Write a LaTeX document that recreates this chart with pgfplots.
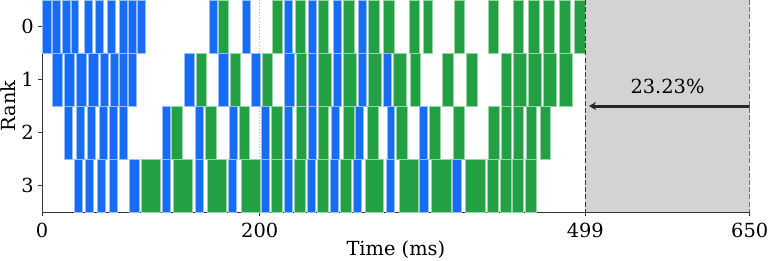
\documentclass[border=0pt]{standalone}
\usepackage{fontspec}
\setmainfont{DejaVu Serif}
\usepackage{pgfplots}
\pgfplotsset{compat=1.18}
\usetikzlibrary{arrows.meta}
\definecolor{fwd}{RGB}{23,108,245}
\definecolor{bwd}{RGB}{34,160,67}
\definecolor{shade}{RGB}{211,211,211}
\definecolor{spine}{RGB}{51,51,51}
\definecolor{arr}{RGB}{38,38,38}
\tikzset{fb/.style={fill=fwd, draw=fwd!45!white, line width=0.8bp},
         bb/.style={fill=bwd, draw=bwd!45!white, line width=0.8bp}}
% \bx{style}{ylow}{yhigh}{start}{end}
\newcommand\bx[5]{\addplot[#1] coordinates {(#4,#2) (#5,#2) (#5,#3) (#4,#3)} --cycle;}
\begin{document}
\begin{tikzpicture}
\begin{axis}[
  scale only axis,
  width=707.7bp, height=212bp,
  xmin=0, xmax=650, ymin=-0.5, ymax=3.5,
  y dir=reverse,
  axis x line*=bottom, axis y line*=left,
  axis line style={spine, line width=1bp, -},
  xtick={0,200,499,650}, ytick={0,1,2,3},
  tick align=outside, major tick length=3.5bp,
  tick style={spine, line width=1bp},
  font=\fontsize{19.4bp}{23bp}\selectfont,
  /pgf/number format/assume math mode=true,
  xticklabel style={anchor=base, yshift=-22.3bp},
  yticklabel style={anchor=east, inner sep=0pt, xshift=-4.5bp},
  xlabel={Time (ms)}, ylabel={Rank},
  xlabel style={at={(axis description cs:0.5,-0.2075)}, anchor=base},
  ylabel style={at={(axis description cs:-0.03716,0.5)}, anchor=base},
]
% idle region
\addplot[fill=shade, draw=none] coordinates {(499,-0.5) (650,-0.5) (650,3.5) (499,3.5)} --cycle;
\addplot[gray!55, dotted, line width=1bp] coordinates {(200,-0.5) (200,3.5)};
% ---- Rank 0
\bx{fb}{-0.5}{0.5}{0}{8.6}
\bx{fb}{-0.5}{0.5}{9.83}{17.17}
\bx{fb}{-0.5}{0.5}{18.64}{25.72}
\bx{fb}{-0.5}{0.5}{26.63}{33.34}
\bx{fb}{-0.5}{0.5}{38.85}{46.20}
\bx{fb}{-0.5}{0.5}{48.68}{56.03}
\bx{fb}{-0.5}{0.5}{59.70}{67.05}
\bx{fb}{-0.5}{0.5}{70.72}{78.34}
\bx{fb}{-0.5}{0.5}{79.63}{86.98}
\bx{fb}{-0.5}{0.5}{87.89}{95.24}
\bx{fb}{-0.5}{0.5}{153.66}{161.00}
\bx{fb}{-0.5}{0.5}{183.69}{191.03}
\bx{fb}{-0.5}{0.5}{222.54}{229.89}
\bx{fb}{-0.5}{0.5}{244.58}{251.93}
\bx{fb}{-0.5}{0.5}{267.54}{274.89}
\bx{fb}{-0.5}{0.5}{290.50}{297.85}
\bx{bb}{-0.5}{0.5}{161.65}{170.83}
\bx{bb}{-0.5}{0.5}{211.52}{220.70}
\bx{bb}{-0.5}{0.5}{232.64}{242.19}
\bx{bb}{-0.5}{0.5}{253.77}{262.95}
\bx{bb}{-0.5}{0.5}{276.73}{286.55}
\bx{bb}{-0.5}{0.5}{299.69}{309.79}
\bx{bb}{-0.5}{0.5}{313.83}{323.57}
\bx{bb}{-0.5}{0.5}{337.07}{346.90}
\bx{bb}{-0.5}{0.5}{349.93}{358.84}
\bx{bb}{-0.5}{0.5}{378.67}{387.86}
\bx{bb}{-0.5}{0.5}{409.90}{419.10}
\bx{bb}{-0.5}{0.5}{432.59}{442.05}
\bx{bb}{-0.5}{0.5}{447.00}{457.10}
\bx{bb}{-0.5}{0.5}{460.78}{470.89}
\bx{bb}{-0.5}{0.5}{474.83}{484.94}
\bx{bb}{-0.5}{0.5}{488.89}{499.00}
% ---- Rank 1
\bx{fb}{0.5}{1.5}{9.83}{18.64}
\bx{fb}{0.5}{1.5}{20.48}{29.67}
\bx{fb}{0.5}{1.5}{31.50}{40.69}
\bx{fb}{0.5}{1.5}{42.89}{52.08}
\bx{fb}{0.5}{1.5}{53.55}{60.89}
\bx{fb}{0.5}{1.5}{62.73}{70.08}
\bx{fb}{0.5}{1.5}{70.72}{78.34}
\bx{fb}{0.5}{1.5}{79.63}{86.98}
\bx{fb}{0.5}{1.5}{130.69}{139.60}
\bx{fb}{0.5}{1.5}{161.93}{170.83}
\bx{fb}{0.5}{1.5}{191.95}{200.86}
\bx{fb}{0.5}{1.5}{222.54}{231.72}
\bx{fb}{0.5}{1.5}{244.58}{251.93}
\bx{fb}{0.5}{1.5}{267.54}{274.89}
\bx{fb}{0.5}{1.5}{290.87}{297.85}
\bx{fb}{0.5}{1.5}{313.83}{321.18}
\bx{bb}{0.5}{1.5}{141.72}{150.90}
\bx{bb}{0.5}{1.5}{172.67}{181.85}
\bx{bb}{0.5}{1.5}{202.70}{211.88}
\bx{bb}{0.5}{1.5}{233.56}{243.11}
\bx{bb}{0.5}{1.5}{253.77}{265.43}
\bx{bb}{0.5}{1.5}{276.73}{288.67}
\bx{bb}{0.5}{1.5}{299.69}{311.63}
\bx{bb}{0.5}{1.5}{322.65}{334.96}
\bx{bb}{0.5}{1.5}{337.99}{347.45}
\bx{bb}{0.5}{1.5}{368.02}{377.76}
\bx{bb}{0.5}{1.5}{389.70}{399.52}
\bx{bb}{0.5}{1.5}{421.84}{431.02}
\bx{bb}{0.5}{1.5}{432.87}{445.17}
\bx{bb}{0.5}{1.5}{447.00}{458.58}
\bx{bb}{0.5}{1.5}{460.78}{472.72}
\bx{bb}{0.5}{1.5}{474.83}{487.05}
% ---- Rank 2
\bx{fb}{1.5}{2.5}{20.48}{27.83}
\bx{fb}{1.5}{2.5}{31.50}{38.85}
\bx{fb}{1.5}{2.5}{41.61}{48.95}
\bx{fb}{1.5}{2.5}{52.63}{59.97}
\bx{fb}{1.5}{2.5}{61.81}{69.16}
\bx{fb}{1.5}{2.5}{71.00}{78.34}
\bx{fb}{1.5}{2.5}{110.86}{118.20}
\bx{fb}{1.5}{2.5}{140.80}{148.14}
\bx{fb}{1.5}{2.5}{171.75}{179.10}
\bx{fb}{1.5}{2.5}{201.78}{209.13}
\bx{fb}{1.5}{2.5}{222.90}{230.25}
\bx{fb}{1.5}{2.5}{244.58}{251.93}
\bx{fb}{1.5}{2.5}{265.71}{272.78}
\bx{fb}{1.5}{2.5}{287.75}{295.10}
\bx{fb}{1.5}{2.5}{316.86}{323.57}
\bx{fb}{1.5}{2.5}{346.90}{353.88}
\bx{bb}{1.5}{2.5}{118.75}{128.86}
\bx{bb}{1.5}{2.5}{149.71}{159.81}
\bx{bb}{1.5}{2.5}{180.93}{190.76}
\bx{bb}{1.5}{2.5}{210.60}{221.07}
\bx{bb}{1.5}{2.5}{233.28}{243.11}
\bx{bb}{1.5}{2.5}{253.49}{262.95}
\bx{bb}{1.5}{2.5}{276.73}{286.83}
\bx{bb}{1.5}{2.5}{298.49}{308.87}
\bx{bb}{1.5}{2.5}{325.77}{335.87}
\bx{bb}{1.5}{2.5}{355.72}{365.54}
\bx{bb}{1.5}{2.5}{377.76}{387.59}
\bx{bb}{1.5}{2.5}{409.90}{419.73}
\bx{bb}{1.5}{2.5}{421.56}{431.02}
\bx{bb}{1.5}{2.5}{432.59}{442.05}
\bx{bb}{1.5}{2.5}{444.81}{454.35}
\bx{bb}{1.5}{2.5}{457.66}{467.21}
% ---- Rank 3
\bx{fb}{2.5}{3.5}{29.67}{37.01}
\bx{fb}{2.5}{3.5}{39.77}{47.12}
\bx{fb}{2.5}{3.5}{50.79}{58.14}
\bx{fb}{2.5}{3.5}{61.81}{69.16}
\bx{fb}{2.5}{3.5}{79.90}{89.09}
\bx{fb}{2.5}{3.5}{110.49}{117.84}
\bx{fb}{2.5}{3.5}{140.80}{148.51}
\bx{fb}{2.5}{3.5}{170.83}{178.82}
\bx{fb}{2.5}{3.5}{201.78}{209.13}
\bx{fb}{2.5}{3.5}{222.90}{230.25}
\bx{fb}{2.5}{3.5}{243.66}{251.01}
\bx{fb}{2.5}{3.5}{264.79}{272.14}
\bx{fb}{2.5}{3.5}{285.91}{292.98}
\bx{fb}{2.5}{3.5}{315.94}{323.57}
\bx{fb}{2.5}{3.5}{346.90}{354.52}
\bx{fb}{2.5}{3.5}{376.84}{385.10}
\bx{bb}{2.5}{3.5}{91.57}{108.65}
\bx{bb}{2.5}{3.5}{120.59}{137.77}
\bx{bb}{2.5}{3.5}{151.82}{169.64}
\bx{bb}{2.5}{3.5}{182.77}{200.50}
\bx{bb}{2.5}{3.5}{210.97}{221.07}
\bx{bb}{2.5}{3.5}{231.72}{241.83}
\bx{bb}{2.5}{3.5}{252.85}{262.95}
\bx{bb}{2.5}{3.5}{273.70}{284.07}
\bx{bb}{2.5}{3.5}{296.94}{313.83}
\bx{bb}{2.5}{3.5}{327.88}{345.61}
\bx{bb}{2.5}{3.5}{357.92}{375.92}
\bx{bb}{2.5}{3.5}{388.78}{406.87}
\bx{bb}{2.5}{3.5}{408.70}{419.10}
\bx{bb}{2.5}{3.5}{420.92}{431.02}
\bx{bb}{2.5}{3.5}{431.67}{441.77}
\bx{bb}{2.5}{3.5}{443.60}{453.97}
% markers of the idle region
\addplot[spine, dashed, dash pattern=on 5bp off 2.2bp, line width=1.3bp] coordinates {(499,-0.5) (499,3.5)};
\addplot[spine, dashed, dash pattern=on 5bp off 2.2bp, line width=1.3bp] coordinates {(650,-0.5) (650,3.5)};
\addplot[arr, line width=3bp, -{Stealth[length=7bp,width=8bp]}] coordinates {(650,1.5) (502.4,1.5)};
\node[anchor=base, inner sep=0pt] at (axis cs:574.5,1.26) {23.23\%};
\end{axis}
\pgfresetboundingbox
\path[use as bounding box] (-42bp,-49bp) rectangle (727bp,212bp);
\end{tikzpicture}
\end{document}
